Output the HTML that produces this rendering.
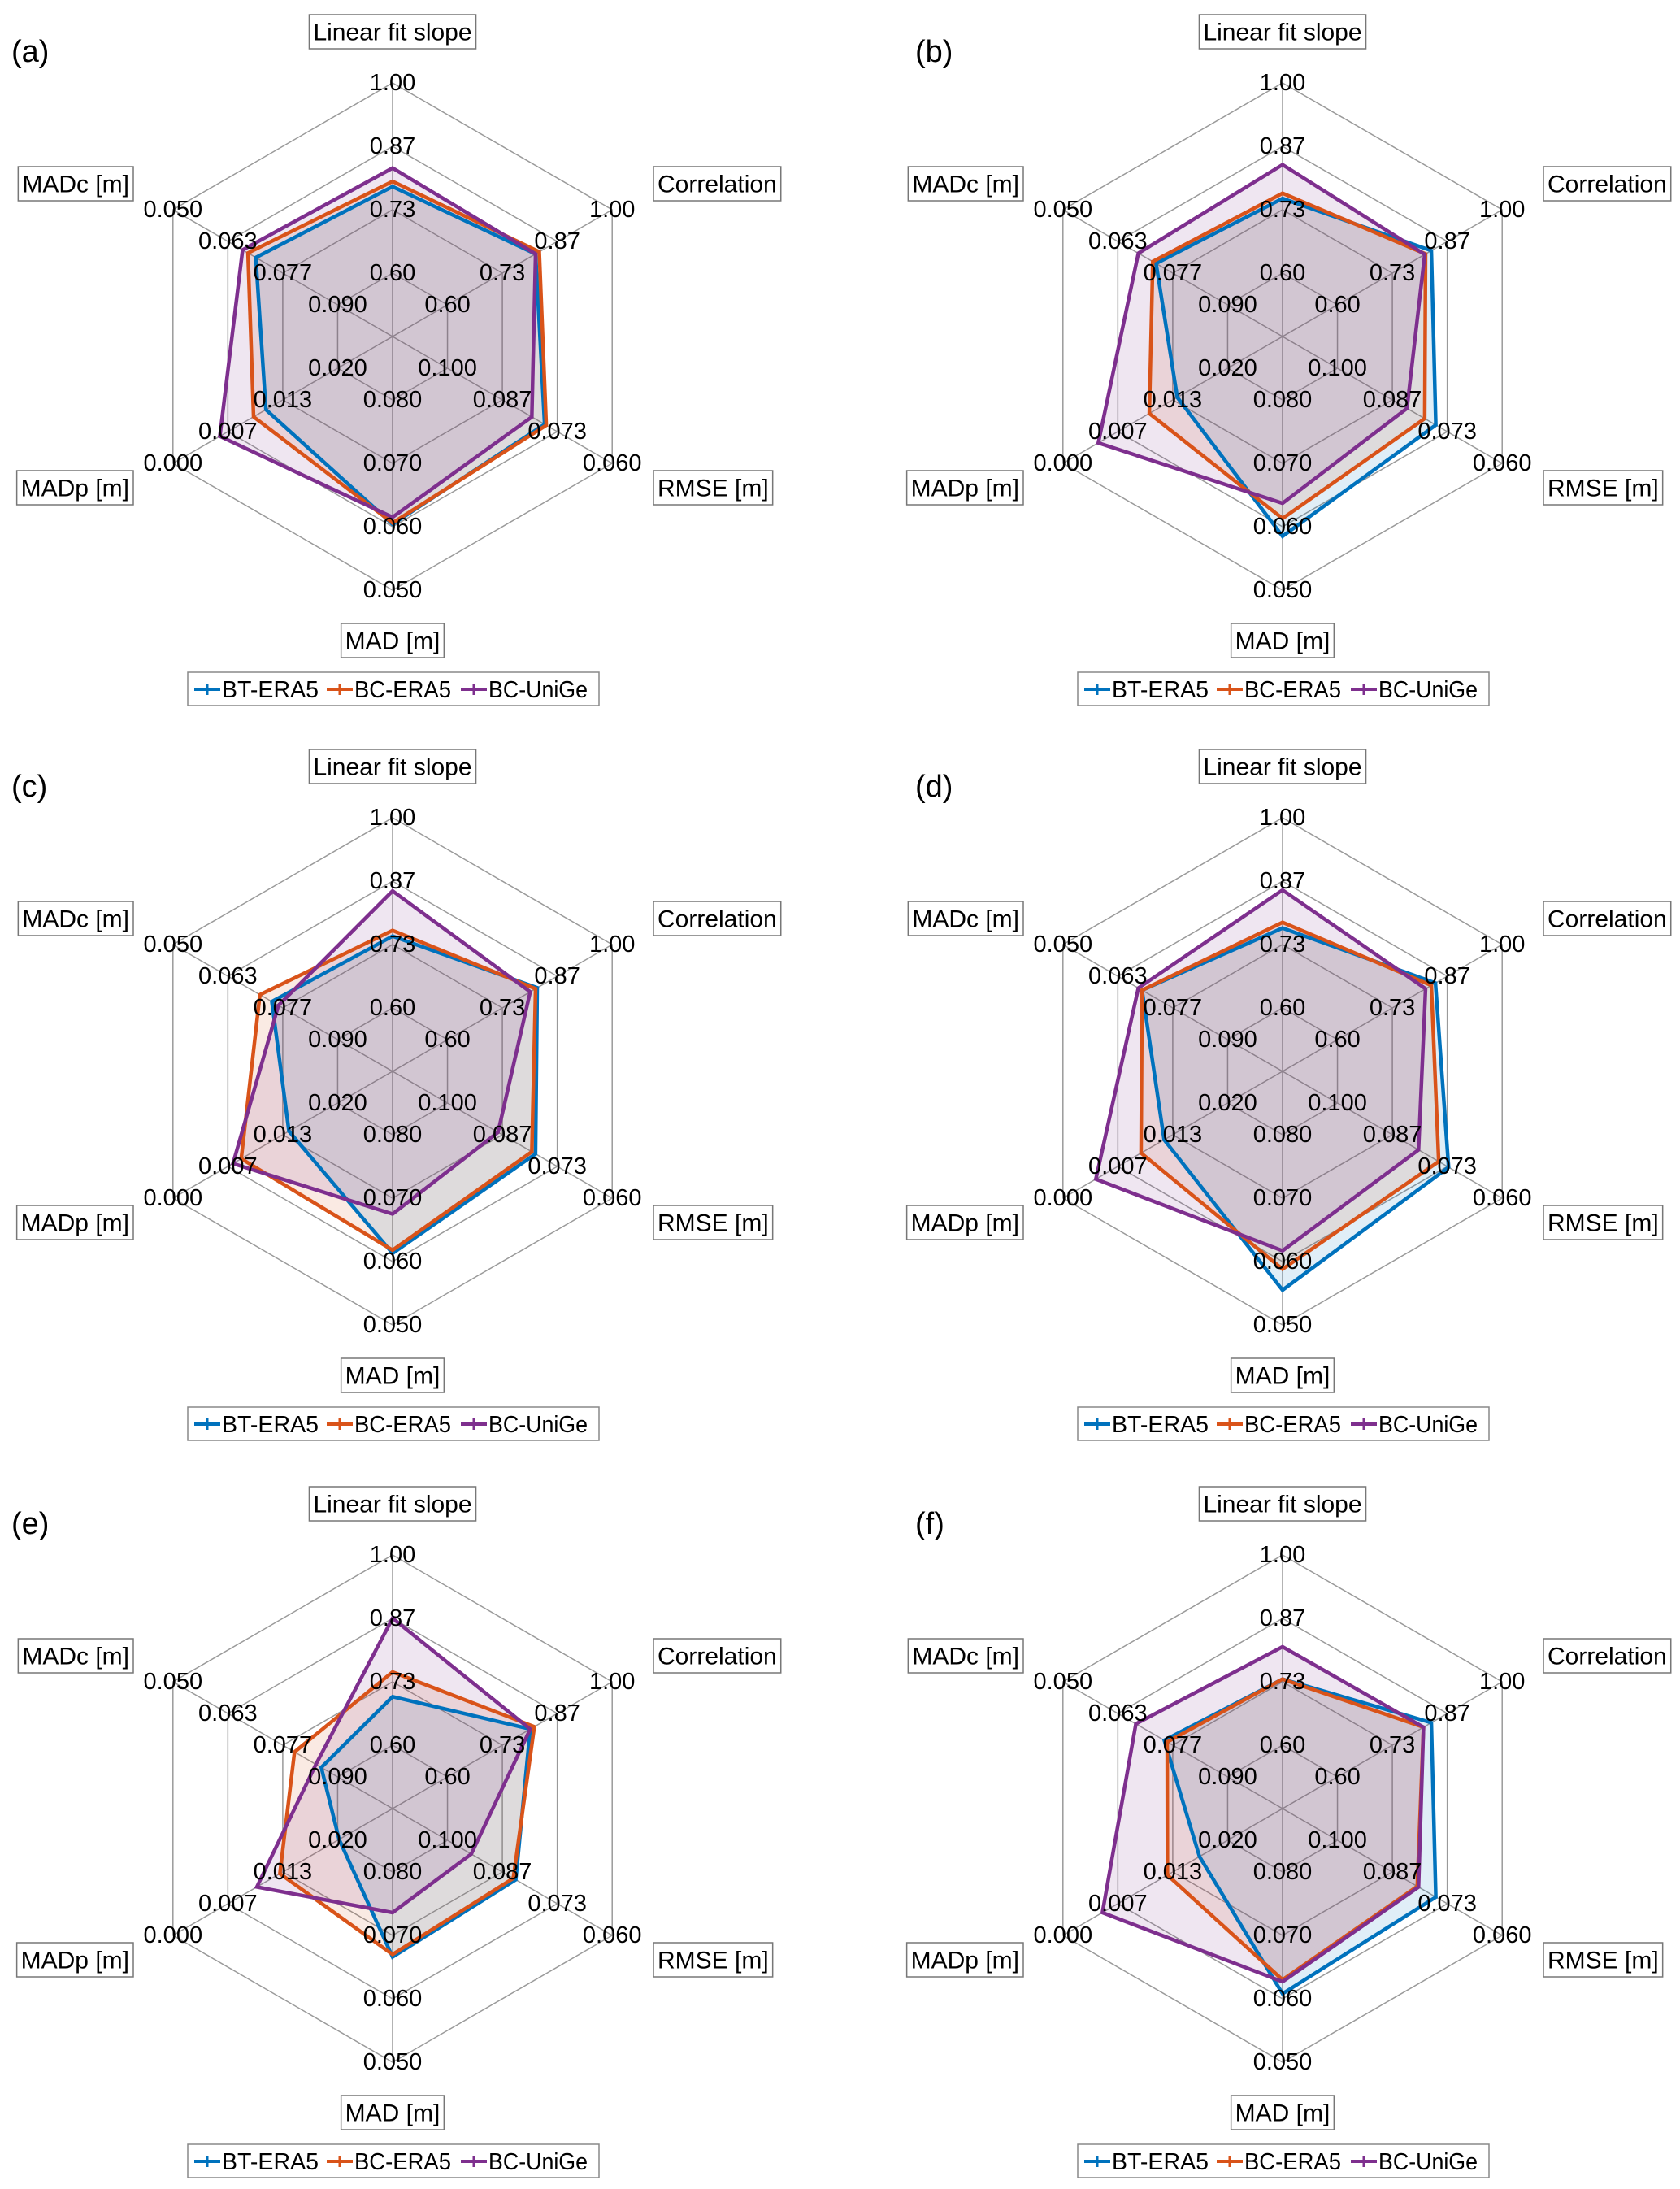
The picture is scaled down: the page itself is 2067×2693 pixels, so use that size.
<!DOCTYPE html>
<html><head><meta charset="utf-8">
<style>
html,body{margin:0;padding:0;background:#fff;}
svg{display:block;font-family:"Liberation Sans",Arial,sans-serif;}
</style></head>
<body>
<svg id="fig" width="2067" height="2693" viewBox="0 0 2067 2693" xmlns="http://www.w3.org/2000/svg">
<rect width="2067" height="2693" fill="#fff"/>
</svg>
<script>
// Axis definitions (order: slope, correlation, RMSE, MAD, MADp, MADc)
const axisTitles = ["Linear fit slope","Correlation","RMSE [m]","MAD [m]","MADp [m]","MADc [m]"];
const axisCenterVals = [0.4667,0.4667,0.1133,0.090,0.0267,0.1033];
const axisOuterVals = [1.00,1.00,0.060,0.050,0.000,0.050];
const tickSlope = ["0.60","0.73","0.87","1.00"];
const tickCorr = ["0.60","0.73","0.87","1.00"];
const tickRmse = ["0.100","0.087","0.073","0.060"];
const tickMad = ["0.080","0.070","0.060","0.050"];
const tickMadp = ["0.020","0.013","0.007","0.000"];
const tickMadc = ["0.090","0.077","0.063","0.050"];
const panelLabels = ["(a)","(b)","(c)","(d)","(e)","(f)"];
const seriesNames = ["BT-ERA5","BC-ERA5","BC-UniGe"];
// values per panel: [slope, corr, rmse, mad, madp, madc]
const btEra5 = [
 [0.782,0.814,0.0764,0.0604,0.0113,0.0701],
 [0.757,0.828,0.0761,0.0585,0.0139,0.0726],
 [0.751,0.818,0.0786,0.0613,0.0141,0.0740],
 [0.768,0.838,0.0730,0.0555,0.0123,0.0692],
 [0.702,0.801,0.0834,0.0666,0.0202,0.0860],
 [0.739,0.828,0.0761,0.0608,0.0166,0.0746]
];
const bcEra5 = [
 [0.793,0.823,0.0760,0.0606,0.0098,0.0682],
 [0.768,0.814,0.0788,0.0613,0.0105,0.0718],
 [0.763,0.814,0.0795,0.0618,0.0083,0.0711],
 [0.780,0.828,0.0754,0.0588,0.0095,0.0692],
 [0.754,0.811,0.0840,0.0670,0.0130,0.0795],
 [0.739,0.809,0.0806,0.0630,0.0127,0.0753]
];
const bcUniGe = [
 [0.821,0.814,0.0795,0.0615,0.0057,0.0669],
 [0.828,0.812,0.0831,0.0637,0.0043,0.0683],
 [0.846,0.801,0.0877,0.0675,0.0073,0.0756],
 [0.848,0.814,0.0803,0.0617,0.0040,0.0683],
 [0.867,0.801,0.0942,0.0736,0.0102,0.0847],
 [0.807,0.809,0.0803,0.0627,0.0048,0.0677]
];

const NS="http://www.w3.org/2000/svg";
const svg=document.getElementById('fig');
const colors=["#0072BD","#D95319","#7E2F8E"];
const allSeries=[btEra5,bcEra5,bcUniGe];
const allTicks=[tickSlope,tickCorr,tickRmse,tickMad,tickMadp,tickMadc];
const R=312;
const colX=[483,1578];
const rowY=[414,1318,2225];
const angles=[-90,-30,30,90,150,210].map(a=>a*Math.PI/180);
function mk(tag,attrs,parent){const e=document.createElementNS(NS,tag);for(const k in attrs)e.setAttribute(k,attrs[k]);(parent||svg).appendChild(e);return e;}
function frac(ai,v){return (v-axisCenterVals[ai])/(axisOuterVals[ai]-axisCenterVals[ai]);}
function pt(cx,cy,ai,f){return [cx+R*f*Math.cos(angles[ai]),cy+R*f*Math.sin(angles[ai])];}

function labelBox(g,text,x,y,anchor,name){
  const fs=30, h=42;
  const t=mk('text',{x:0,y:0,'font-size':fs,fill:'#000','dominant-baseline':'central'},g);
  t.textContent=text;
  
  
  const w=t.getComputedTextLength()+10;
  let left = anchor==='middle'? x-w/2 : anchor==='end'? x-w : x;
  const rect=mk('rect',{x:left,y:y,width:w,height:h,fill:'#fff',stroke:'#777','stroke-width':1.5},g);
  
  
  g.insertBefore(rect,t);
  t.setAttribute('x',left+5);t.setAttribute('y',y+h/2+1);
}

for(let p=0;p<6;p++){
  const cx=colX[p%2], cy=rowY[Math.floor(p/2)];
  const g=mk('g',{});
  
  
  const pl=mk('text',{x:(p%2===0?14:1126),y:cy-338,'font-size':38,fill:'#000'},g);
  pl.textContent=panelLabels[p];
  
  
  for(let k=1;k<=4;k++){
    const pts=angles.map((a,i)=>pt(cx,cy,i,k/4).join(',')).join(' ');
    const ring=mk('polygon',{points:pts,fill:'none',stroke:'#9a9a9a','stroke-width':1.5},g);
    
    
  }
  for(let i=0;i<6;i++){
    const e=pt(cx,cy,i,1);
    const sp=mk('line',{x1:cx,y1:cy,x2:e[0],y2:e[1],stroke:'#9a9a9a','stroke-width':1.5},g);
    
    
  }
  for(let s=0;s<3;s++){
    const vals=allSeries[s][p];
    const pts=vals.map((v,i)=>pt(cx,cy,i,frac(i,v)).join(',')).join(' ');
    const f=mk('polygon',{points:pts,fill:colors[s],'fill-opacity':0.12,stroke:'none'},g);
    
    
  }
  for(let s=0;s<3;s++){
    const vals=allSeries[s][p];
    const pts=vals.map((v,i)=>pt(cx,cy,i,frac(i,v)).join(',')).join(' ');
    const l=mk('polygon',{points:pts,fill:'none',stroke:colors[s],'stroke-width':4.5,'stroke-linejoin':'miter'},g);
    
    
  }
  for(let i=0;i<6;i++){
    for(let k=1;k<=4;k++){
      const q=pt(cx,cy,i,k/4);
      const t=mk('text',{x:q[0],y:q[1],'font-size':29,fill:'#000','text-anchor':'middle','dominant-baseline':'central'},g);
      t.textContent=allTicks[i][k-1];
      
      
    }
  }
  labelBox(g,axisTitles[0],cx,cy-396,'middle','axis-title-slope');
  labelBox(g,axisTitles[1],cx+321,cy-209,'start','axis-title-correlation');
  labelBox(g,axisTitles[2],cx+321,cy+165,'start','axis-title-rmse');
  labelBox(g,axisTitles[3],cx,cy+353,'middle','axis-title-mad');
  labelBox(g,axisTitles[4],cx-319,cy+165,'end','axis-title-madp');
  labelBox(g,axisTitles[5],cx-319,cy-209,'end','axis-title-madc');
  const lg=mk('g',{},g);
  
  
  const lb=mk('rect',{x:cx-252,y:cy+413,width:506,height:41,fill:'#fff',stroke:'#888','stroke-width':1.5},lg);
  
  
  const offs=[-248,-85,80];
  for(let s=0;s<3;s++){
    const x0=cx+offs[s], y0=cy+434;
    const e=mk('g',{},lg);
    
    
    mk('line',{x1:x0+4,y1:y0,x2:x0+36,y2:y0,stroke:colors[s],'stroke-width':4},e);
    mk('line',{x1:x0+20,y1:y0-7,x2:x0+20,y2:y0+7,stroke:colors[s],'stroke-width':3},e);
    const t=mk('text',{x:x0+38,y:y0+1,'font-size':29,fill:'#000','dominant-baseline':'central','textLength':(s===2?122:119),'lengthAdjust':'spacingAndGlyphs'},e);
    t.textContent=seriesNames[s];
  }
}
</script>
</body></html>
